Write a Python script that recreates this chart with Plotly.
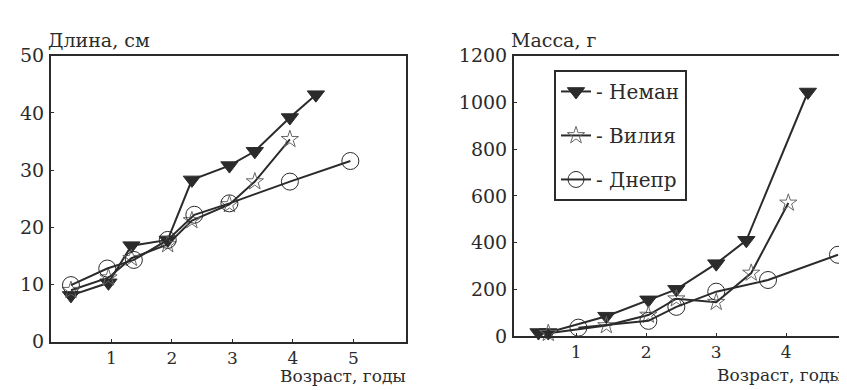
import plotly.graph_objects as go

# ---- data: length (left panel) ----
len_neman_x = [0.33, 0.95, 1.33, 1.93, 2.33, 2.95, 3.37, 3.95, 4.38]
len_neman_y = [8.1, 10.3, 16.8, 17.8, 28.3, 30.8, 33.3, 39.2, 43.2]
len_vilia_x = [0.33, 0.95, 1.33, 1.93, 2.33, 2.95, 3.37, 3.95]
len_vilia_y = [9.0, 11.2, 14.6, 17.0, 21.2, 24.0, 28.0, 35.4]
len_dnepr_x = [0.33, 0.93, 1.37, 1.93, 2.37, 2.95, 3.95, 4.95]
len_dnepr_y = [9.9, 12.8, 14.3, 17.8, 22.2, 24.2, 28.0, 31.6]

# ---- data: mass (right panel) ----
mass_neman_x = [0.46, 0.6, 1.43, 2.03, 2.43, 3.0, 3.43, 4.31]
mass_neman_y = [15, 15, 85, 155, 200, 310, 410, 1045]
mass_vilia_x = [0.6, 1.43, 2.03, 2.43, 3.0, 3.5, 4.03]
mass_vilia_y = [12, 45, 90, 160, 145, 270, 570]
mass_dnepr_x = [1.03, 2.03, 2.43, 3.0, 3.74, 4.74]
mass_dnepr_y = [36, 65, 125, 190, 240, 348]

names = ["- Неман", "- Вилия", "- Днепр"]
len_ticks_x = [1, 2, 3, 4, 5]
len_ticks_y = [0, 10, 20, 30, 40, 50]
mass_ticks_x = [1, 2, 3, 4]
mass_ticks_y = [0, 200, 400, 600, 800, 1000, 1200]

INK = "#2b2b2b"
FONT = "DejaVu Serif"
FS = 19
FS_X = 17
FS_T = 17

W, H = 847, 390

def px_x(p):
    return p / W

def px_y(p):
    return 1 - p / H

styles = [
    dict(symbol="triangle-down", size=15, color=INK, line=dict(color=INK, width=1)),
    dict(symbol="star-open", size=13, color="#666", line=dict(color="#666", width=1)),
    dict(symbol="circle-open", size=17, color=INK, line=dict(color=INK, width=1)),
]

fig = go.Figure()

left_sets = [(len_neman_x, len_neman_y), (len_vilia_x, len_vilia_y), (len_dnepr_x, len_dnepr_y)]
right_sets = [(mass_neman_x, mass_neman_y), (mass_vilia_x, mass_vilia_y), (mass_dnepr_x, mass_dnepr_y)]

for i, (xs, ys) in enumerate(left_sets):
    fig.add_trace(go.Scatter(x=xs, y=ys, mode="lines+markers", name=names[i],
                             line=dict(color=INK, width=2), marker=styles[i],
                             xaxis="x", yaxis="y", showlegend=False, cliponaxis=False))
for i, (xs, ys) in enumerate(right_sets):
    fig.add_trace(go.Scatter(x=xs, y=ys, mode="lines+markers", name=names[i],
                             line=dict(color=INK, width=2), marker=styles[i],
                             xaxis="x2", yaxis="y2", showlegend=True,
                             legendgroup=f"g{i}", cliponaxis=False))

axis_base = dict(showgrid=False, zeroline=False, showline=True, mirror=True,
                 linecolor=INK, linewidth=2, ticks="inside", ticklen=3,
                 tickcolor=INK)
yaxis_common = dict(axis_base, tickfont=dict(family=FONT, size=FS, color=INK),
                    ticklabelstandoff=1)
xaxis_common = dict(axis_base, tickfont=dict(family=FONT, size=FS_X, color=INK),
                    ticklabelstandoff=0)

fig.update_layout(
    width=W, height=H,
    margin=dict(l=0, r=0, t=0, b=0),
    paper_bgcolor="white", plot_bgcolor="white",
    font=dict(family=FONT, size=FS, color=INK),
    xaxis=dict(domain=[px_x(43), px_x(398)], range=[0, 5.87], tickvals=len_ticks_x,
               anchor="y", **xaxis_common),
    yaxis=dict(domain=[px_y(342), px_y(39)], range=[0, 50], tickvals=len_ticks_y,
               anchor="x", **yaxis_common),
    xaxis2=dict(domain=[px_x(506), px_x(844)], range=[0.11, 4.94], tickvals=mass_ticks_x,
                anchor="y2", **xaxis_common),
    yaxis2=dict(domain=[px_y(336), px_y(39)], range=[0, 1200], tickvals=mass_ticks_y,
                anchor="x2", **yaxis_common),
    legend=dict(x=px_x(546), y=px_y(54), xanchor="left", yanchor="top",
                bordercolor=INK, borderwidth=2, bgcolor="white",
                font=dict(family=FONT, size=20, color=INK),
                tracegroupgap=15, itemwidth=30),
    annotations=[
        dict(text="Длина, см", x=px_x(38), y=px_y(22), xref="paper", yref="paper",
             xanchor="left", yanchor="middle", showarrow=False,
             font=dict(family=FONT, size=19, color=INK)),
        dict(text="Масса, г", x=px_x(501), y=px_y(22), xref="paper", yref="paper",
             xanchor="left", yanchor="middle", showarrow=False,
             font=dict(family=FONT, size=19, color=INK)),
        dict(text="Возраст, годы", x=px_x(399), y=px_y(378), xref="paper", yref="paper",
             xanchor="right", yanchor="middle", showarrow=False, borderpad=0,
             font=dict(family=FONT, size=FS_T, color=INK)),
        dict(text="Возраст, годы", x=px_x(836), y=px_y(377), xref="paper", yref="paper",
             xanchor="right", yanchor="middle", showarrow=False, borderpad=0,
             font=dict(family=FONT, size=FS_T, color=INK)),
    ],
)

fig.write_html("out.html")
